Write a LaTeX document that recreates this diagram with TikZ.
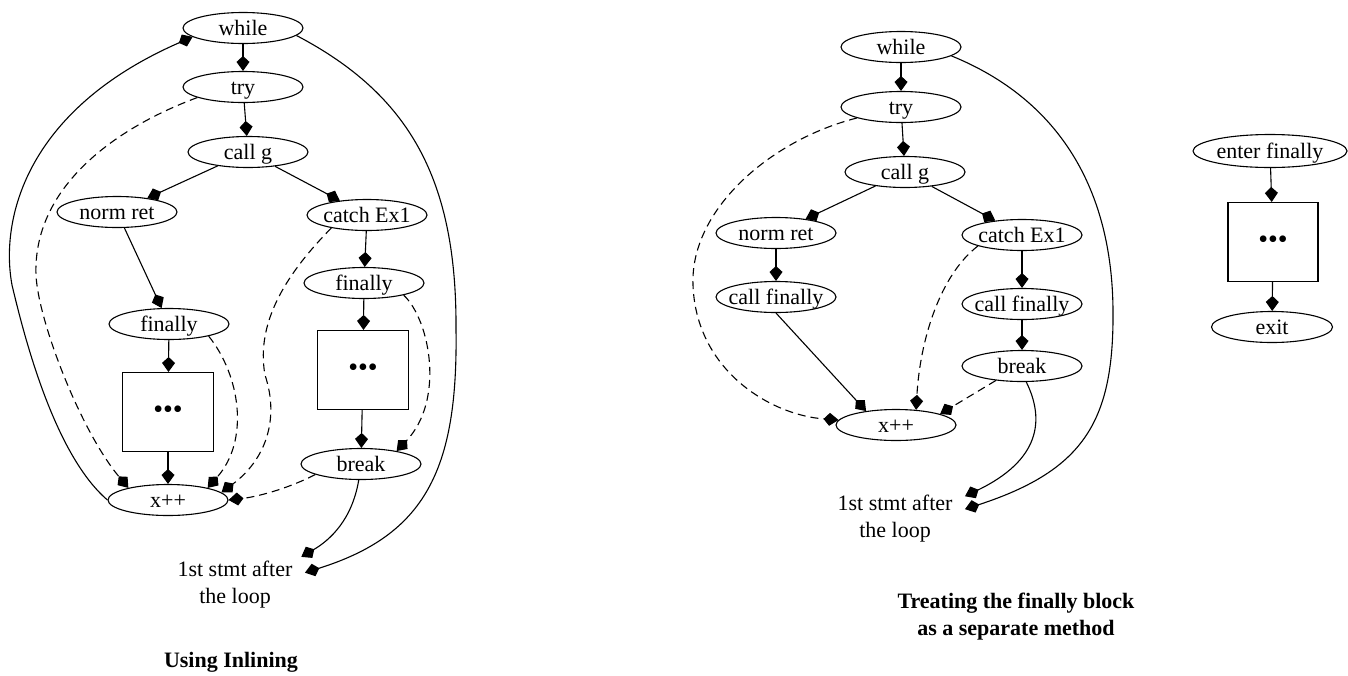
\documentclass[tikz,border=0pt]{standalone}
\usepackage{fontspec}
\setmainfont{Liberation Serif}
\usetikzlibrary{shapes.geometric,arrows.meta}
% label of fixed-size ellipse nodes: zero-size box, visually centred
\newcommand{\lbl}[1]{\smash{\makebox[0pt]{\raisebox{-0.32em}{#1}}}}
\begin{document}
\begin{tikzpicture}[x=1pt,y=-1pt,line width=1.1pt,
  >={Kite[length=15pt,width=13pt,inset=6pt]},
  every node/.style={font=\fontsize{22}{27}\selectfont},
  ell/.style={ellipse,draw,minimum width=120pt,minimum height=31pt,inner sep=0pt},
  blk/.style={rectangle,draw,minimum width=91pt,minimum height=79pt,inner sep=0pt,font=\fontsize{28}{28}\selectfont},
  txt/.style={align=center,inner xsep=12pt,inner ysep=4pt},
  ttl/.style={align=center,font=\fontsize{22}{27}\selectfont\bfseries},
  flow/.style={->},
  exc/.style={->,dash pattern=on 8pt off 5pt}]
\useasboundingbox (0,0) rectangle (1348,675);

% ---------- inlined finally ----------
\node[ell] (w1)  at (243,28)  {\lbl{while}};
\node[ell] (t1)  at (243,87)  {\lbl{try}};
\node[ell] (g1)  at (248,152) {\lbl{call g}};
\node[ell] (n1)  at (117,212) {\lbl{norm ret}};
\node[ell] (c1)  at (367,215) {\lbl{catch Ex1}};
\node[ell] (fa1) at (169,324) {\lbl{finally}};
\node[ell] (fb1) at (364,283) {\lbl{finally}};
\node[blk] (ba1) at (168,412) {•••};
\node[blk] (bb1) at (363,370) {•••};
\node[ell] (br1) at (361,464) {\lbl{break}};
\node[ell] (x1)  at (168,500) {\lbl{x++}};
\node[txt] (s1)  at (235,585) {1st stmt after\\the loop};
\node[ttl] (h1)  at (231,662) {Using Inlining};

\draw[flow] (w1) -- (t1);
\draw[flow] (t1) -- (g1);
\draw[flow] (g1) -- (n1);
\draw[flow] (g1) -- (c1);
\draw[flow] (n1) -- (fa1);
\draw[flow] (c1) -- (fb1);
\draw[flow] (fa1) -- (ba1);
\draw[flow] (ba1) -- (x1);
\draw[flow] (fb1) -- (bb1);
\draw[flow] (bb1) -- (br1);

\draw[exc] (t1.193) .. controls (110,130) and (33,190) .. (36,275)
                    .. controls (38,320) and (80,430) .. (x1.163);
\draw[exc] (fa1.343) .. controls (240,375) and (250,440) .. (x1.17);
\draw[exc] (c1.200) .. controls (290,270) and (255,320) .. (265,375)
                    .. controls (280,420) and (265,460) .. (x1.8);
\draw[exc] (fb1.343) .. controls (430,320) and (445,400) .. (br1.20);
\draw[exc] (br1.193) .. controls (285,490) and (255,497) .. (x1.east);

\draw[flow] (x1.west) .. controls (55,455) and (25,340) .. (12,285)
                      .. controls (0,220) and (25,110) .. (w1.190);
\draw[flow] (w1.352) .. controls (410,95) and (457,180) .. (456,330)
                     .. controls (458,470) and (425,535) .. (s1.10);
\draw[flow] (br1.262) .. controls (352,520) and (330,540) .. (s1.23);

% ---------- finally as a separate method ----------
\node[ell] (w2)   at (901,47)   {\lbl{while}};
\node[ell] (t2)   at (901,107)  {\lbl{try}};
\node[ell] (g2)   at (905,172)  {\lbl{call g}};
\node[ell] (n2)   at (776,233)  {\lbl{norm ret}};
\node[ell] (c2)   at (1022,235) {\lbl{catch Ex1}};
\node[ell] (cf2a) at (776,297)  {\lbl{call finally}};
\node[ell] (cf2b) at (1022,304) {\lbl{call finally}};
\node[ell] (br2)  at (1022,366) {\lbl{break}};
\node[ell] (x2)   at (896,425)  {\lbl{x++}};
\node[txt] (s2)   at (895,519)  {1st stmt after\\the loop};
\node[ttl] (h2)   at (1016,617) {Treating the finally block\\as a separate method};

\draw[flow] (w2) -- (t2);
\draw[flow] (t2) -- (g2);
\draw[flow] (g2) -- (n2);
\draw[flow] (g2) -- (c2);
\draw[flow] (n2) -- (cf2a);
\draw[flow] (c2) -- (cf2b);
\draw[flow] (cf2b) -- (br2);
\draw[flow] (cf2a.south) -- (x2.155);

\draw[exc] (t2.194) .. controls (770,140) and (690,210) .. (693,285)
                    .. controls (696,370) and (770,415) .. (x2.175);
\draw[exc] (c2.194) .. controls (940,275) and (920,340) .. (x2.37);
\draw[exc] (br2.209) -- (x2.14);

\draw[flow] (w2.350) .. controls (1060,100) and (1112,190) .. (1113,310)
                     .. controls (1114,420) and (1085,470) .. (s2.8);
\draw[flow] (br2.285) .. controls (1045,420) and (1040,460) .. (s2.18);

% the finally body
\node[ell,minimum width=154pt,minimum height=33pt] (ef) at (1270,151) {\lbl{enter finally}};
\node[blk,minimum width=90pt] (bf) at (1273,242) {•••};
\node[ell,minimum width=121pt] (ex) at (1272,327) {\lbl{exit}};
\draw[flow] (ef) -- (bf);
\draw[flow] (bf) -- (ex);
\end{tikzpicture}
\end{document}
